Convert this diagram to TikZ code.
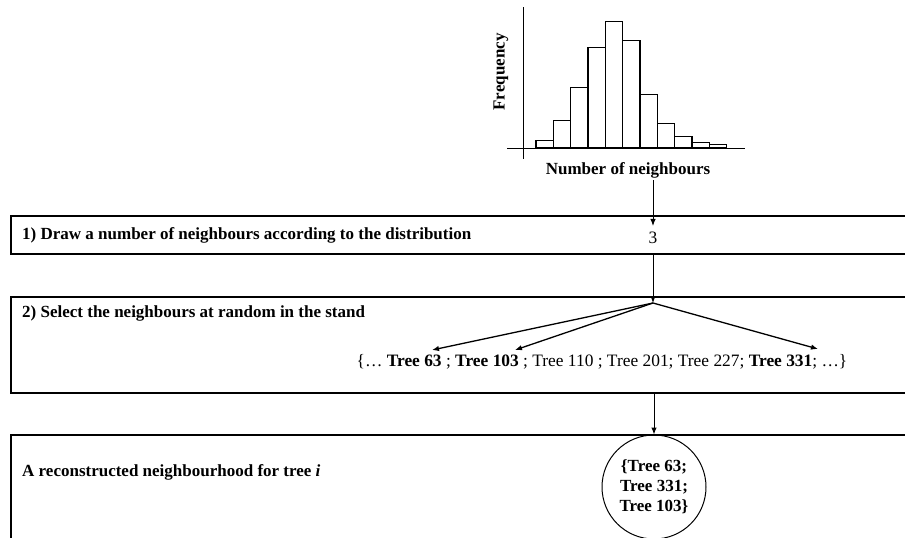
\documentclass[tikz,border=0pt]{standalone}
\usepackage{fontspec}
\setmainfont{Liberation Serif}
\usetikzlibrary{arrows.meta}

\begin{document}
\begin{tikzpicture}[x=1pt, y=-1pt,
    bar/.style={line width=1.1, fill=white},
    frame/.style={line width=1.2},
    arr/.style={-{Latex[length=7pt,width=5.5pt]}, line width=1},
    txt/.style={font=\fontsize{17.4}{20}\selectfont, inner sep=0pt},
    btxt/.style={font=\fontsize{17}{20}\selectfont\bfseries, inner sep=0pt}]
        \useasboundingbox (0,0) rectangle (905,538);

        % --------------------------------------------------

        \draw[line width=1] (523,7) -- (523,159); %y-achse
        \draw[line width=1] (507,148) -- (745,148); %x-achse
        \draw[bar] (536,148) rectangle (553.3,140.3);
        \draw[bar] (553.3,148) rectangle (570.7,120.3);
        \draw[bar] (570.7,148) rectangle (588,87.3);
        \draw[bar] (588,148) rectangle (605.3,47.3);
        \draw[bar] (605.3,148) rectangle (622.7,21.3); % maximum
        \draw[bar] (622.7,148) rectangle (640,40.7);
        \draw[bar] (640,148) rectangle (657.3,94.3);
        \draw[bar] (657.3,148) rectangle (674.7,123.3);
        \draw[bar] (674.7,148) rectangle (692,136.7);
        \draw[bar] (692,148) rectangle (709.3,142.7);
        \draw[bar] (709.3,148) rectangle (726.7,144.3);
        \node[btxt, rotate=90] (freq) at (501,72) {Frequency};
        \node[btxt] (nbaxis) at (628,170) {Number of neighbours};
        \coordinate (histout) at (653,180);

        % --------------------------------------------------

        \draw[frame] (905,216) -- (11,216) -- (11,254) -- (905,254); %kasten 1
        \node[btxt, anchor=west] (step1) at (22,235) {1) Draw a number of neighbours according to the distribution};
        \node[txt, inner ysep=6pt] (three) at (653,238) {3};
        \draw[arr] (histout) -- (three.north);
        \coordinate (box1out) at (653,254);

        % --------------------------------------------------

        \draw[frame] (905,297) -- (11,297) -- (11,393) -- (905,393); %kasten 2
        \node[btxt, anchor=west] (step2) at (22,313) {2) Select the neighbours at random in the stand};
        \coordinate (fan) at (653,303);
        \draw[arr] (box1out) -- (fan);
        \node[txt] (treelist) at (602,362) {\{… \textbf{Tree 63} ; \textbf{Tree 103} ; Tree 110 ; Tree 201; Tree 227; \textbf{Tree 331}; …\}};
        \coordinate (pick63) at (432,350);
        \coordinate (pick103) at (515,350);
        \coordinate (pick331) at (818,349);
        \draw[arr, line width=1.3] (fan) -- (pick63);
        \draw[arr, line width=1.3] (fan) -- (pick103);
        \draw[arr, line width=1.3] (fan) -- (pick331);
        \coordinate (box2out) at (654,393);

        % --------------------------------------------------

        \draw[frame] (905,435) -- (11,435) -- (11,540); %kasten 3
        \node[btxt, anchor=west] (step3) at (22,472) {A reconstructed neighbourhood for tree \textit{i}};
        \node[btxt, draw, circle, line width=1, minimum size=104, align=center] (hood) at (654,487) {\{Tree 63;\\Tree 331;\\Tree 103\}};
        \draw[arr] (box2out) -- (hood.north);
    \end{tikzpicture}
\end{document}
